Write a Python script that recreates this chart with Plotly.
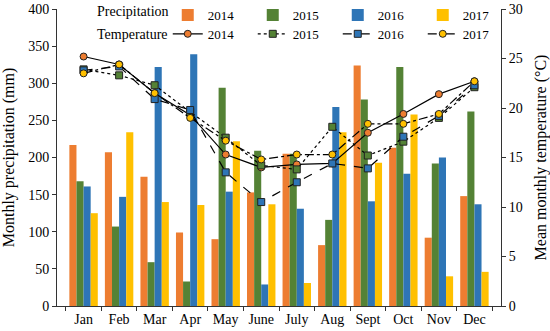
import plotly.graph_objects as go

months = ["Jan", "Feb", "Mar", "Apr", "May", "June", "July", "Aug", "Sept", "Oct", "Nov", "Dec"]
years = ["2014", "2015", "2016", "2017"]

precip_2014 = [217, 207, 174, 99, 90, 153, 205, 82, 324, 213, 92, 148]
precip_2015 = [168, 107, 59, 33, 294, 209, 205, 116, 278, 322, 192, 262]
precip_2016 = [161, 147, 322, 339, 154, 29, 131, 268, 141, 178, 200, 137]
precip_2017 = [125, 234, 140, 136, 222, 137, 31, 234, 193, 258, 40, 46]

temp_2014 = [25.2, 24.4, 21.5, 19.3, 15.3, 14.0, 14.3, 14.4, 17.5, 19.4, 21.4, 22.7]
temp_2015 = [23.9, 23.3, 22.3, 19.6, 17.0, 14.2, 13.8, 18.1, 15.2, 16.6, 19.0, 22.1]
temp_2016 = [23.8, 24.2, 20.9, 19.8, 13.5, 10.5, 12.5, 14.4, 13.9, 17.1, 19.2, 22.3]
temp_2017 = [23.5, 24.4, 21.5, 19.0, 16.7, 14.8, 15.3, 15.3, 18.4, 18.4, 19.4, 22.7]

colors = ["#ED7D31", "#548235", "#2E75B6", "#FFC000"]
dashes = ["solid", "dot", "dash", "dashdot"]
symbols = ["circle", "square", "square", "circle"]

precip = [precip_2014, precip_2015, precip_2016, precip_2017]
temps = [temp_2014, temp_2015, temp_2016, temp_2017]

FONT = "Liberation Serif"
fig = go.Figure()

for y, vals, c in zip(years, precip, colors):
    fig.add_trace(go.Bar(x=months, y=vals, name=y, marker=dict(color=c, line=dict(width=0)),
                         legend="legend"))

for y, vals, c, d, s in zip(years, temps, colors, dashes, symbols):
    fig.add_trace(go.Scatter(x=months, y=vals, name=y, yaxis="y2", mode="lines+markers",
                             line=dict(color="black", width=1.2, dash=d),
                             marker=dict(symbol=s, size=7, color=c, line=dict(color="#222", width=1)),
                             legend="legend2"))

fig.update_layout(
    width=550, height=331,
    margin=dict(l=57, r=49, t=9, b=25, autoexpand=False),
    paper_bgcolor="white", plot_bgcolor="white",
    font=dict(family=FONT, size=13, color="black"),
    barmode="group", bargap=0.2, bargroupgap=0,
    showlegend=True,
    legend=dict(orientation="h", xref="container", yref="container", x=0.305, y=1.0,
                xanchor="left", yanchor="top",
                entrywidth=40, entrywidthmode="pixels", bgcolor="rgba(0,0,0,0)",
                font=dict(family=FONT, size=13), itemwidth=30, tracegroupgap=0),
    legend2=dict(orientation="h", xref="container", yref="container", x=0.305, y=0.943,
                 xanchor="left", yanchor="top",
                 entrywidth=40, entrywidthmode="pixels", bgcolor="rgba(0,0,0,0)",
                 font=dict(family=FONT, size=13), itemwidth=30, tracegroupgap=0),
    xaxis=dict(showline=True, linecolor="#333", linewidth=1, ticks="outside", ticklen=4,
               tickson="boundaries", tickcolor="#333", showgrid=False, automargin=False,
               tickfont=dict(family=FONT, size=14)),
    yaxis=dict(range=[0, 400], dtick=50, showline=True, linecolor="#333", linewidth=1,
               ticks="outside", ticklen=4, tickcolor="#333", showgrid=False, zeroline=False,
               automargin=False,
               title=dict(text="Monthly precipitation (mm)", font=dict(family=FONT, size=16)),
               tickfont=dict(family=FONT, size=14)),
    yaxis2=dict(range=[0, 30], dtick=5, overlaying="y", side="right", showline=True,
                linecolor="#333", linewidth=1, ticks="outside", ticklen=4, tickcolor="#333",
                showgrid=False, zeroline=False, automargin=False,
                title=dict(text="Mean monthly temperature (°C)", font=dict(family=FONT, size=16)),
                tickfont=dict(family=FONT, size=14)),
)

fig.add_annotation(text="Precipitation", xref="paper", yref="paper", x=0.085, y=0.99,
                   xanchor="left", yanchor="middle", showarrow=False, font=dict(family=FONT, size=14))
fig.add_annotation(text="Temperature", xref="paper", yref="paper", x=0.085, y=0.915,
                   xanchor="left", yanchor="middle", showarrow=False, font=dict(family=FONT, size=14))

fig.write_html("out.html", config={"displayModeBar": False},
               post_script="document.body.style.margin='0';document.body.style.overflow='hidden';")
